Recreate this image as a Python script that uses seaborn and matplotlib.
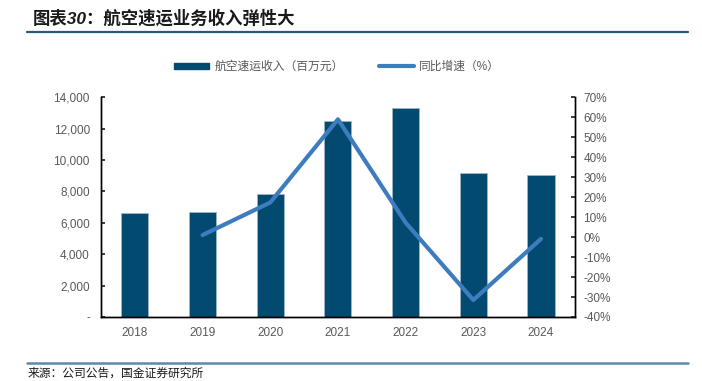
import numpy as np
import pandas as pd
import matplotlib
matplotlib.use("Agg")
import matplotlib.pyplot as plt
from matplotlib.lines import Line2D
from matplotlib.patches import Patch
from matplotlib.ticker import FuncFormatter, MultipleLocator
import seaborn as sns

# chart data
years = ["2018", "2019", "2020", "2021", "2022", "2023", "2024"]
revenue = [6600, 6680, 7850, 12470, 13300, 9140, 9060]      # 百万元
growth = [np.nan, 1.0, 17.3, 58.9, 7.2, -31.5, -0.9]       # %

bar_label = "航空速运收入（百万元）"
line_label = "同比增速（%）"
title = "图表30：航空速运业务收入弹性大"
source = "来源：公司公告，国金证券研究所"

BAR_COLOR = "#034a70"
LINE_COLOR = "#3d7dbf"
TICK_COLOR = "#595959"

sns.set_theme(style="white")
plt.rcParams["font.family"] = ["Liberation Sans", "Noto Sans CJK SC", "DejaVu Sans"]
plt.rcParams.update({
    "xtick.direction": "in",
    "ytick.direction": "in",
    "xtick.major.size": 3,
    "ytick.major.size": 3,
    "axes.linewidth": 1.0,
    "axes.edgecolor": "black",
})

df = pd.DataFrame({"year": years, "revenue": revenue, "growth": growth})
df["pos"] = np.arange(len(df))

fig = plt.figure(figsize=(7.02, 3.81), dpi=100)
ax = fig.add_axes([0.1439, 0.168, 0.675, 0.577])

sns.barplot(data=df, x="year", y="revenue", color=BAR_COLOR, saturation=1,
            width=0.4, ax=ax, edgecolor="#9fb7c8", linewidth=0.6)
ax.set_xlim(-0.5, len(years) - 0.5)
ax.set_ylim(0, 14000)
ax.yaxis.set_major_locator(MultipleLocator(2000))
ax.yaxis.set_major_formatter(FuncFormatter(lambda v, p: "-" if v == 0 else f"{v:,.0f}"))
# tick marks sit between the categories, labels under the bars
ax.set_xticks(np.arange(len(years)) + 0.5, minor=False)
ax.set_xticklabels([])
ax.set_xticks(np.arange(len(years)), minor=True)
ax.set_xticklabels(years, minor=True)
ax.tick_params(axis="x", which="minor", length=0, pad=7, labelsize=8.5, labelcolor=TICK_COLOR)
ax.tick_params(axis="x", which="major", length=3, color="black")
ax.tick_params(axis="y", labelsize=8.5, labelcolor=TICK_COLOR, pad=8, left=True)
ax.set_xlabel("")
ax.set_ylabel("")
ax.spines["top"].set_visible(False)

ax2 = ax.twinx()
line_df = df.dropna(subset=["growth"])
sns.lineplot(data=line_df, x="pos", y="growth", color=LINE_COLOR, linewidth=3,
             ax=ax2, legend=False)
ax2.set_xlim(-0.5, len(years) - 0.5)
ax2.set_ylim(-40, 70)
ax2.yaxis.set_major_locator(MultipleLocator(10))
ax2.yaxis.set_major_formatter(FuncFormatter(lambda v, p: f"{v:.0f}%"))
ax2.tick_params(axis="y", labelsize=8.5, labelcolor=TICK_COLOR, pad=6, right=True)
ax2.set_xlabel("")
ax2.set_ylabel("")
ax2.spines["top"].set_visible(False)

handles = [Patch(facecolor=BAR_COLOR, edgecolor=BAR_COLOR),
           Line2D([0], [0], color=LINE_COLOR, linewidth=3)]
fig.legend(handles, [bar_label, line_label], loc="center", ncol=2,
           bbox_to_anchor=(0.48, 0.824), frameon=False, fontsize=8.5,
           handlelength=3.0, handleheight=0.5, columnspacing=3.0,
           labelcolor=TICK_COLOR, handletextpad=0.4)

fig.text(0.047, 0.953, title, fontsize=12.5, fontweight="bold", fontstyle="italic",
         color="#1a1a1a", va="center", ha="left")
fig.add_artist(Line2D([27 / 702, 688 / 702], [1 - 32 / 381] * 2,
                      color="#245a7e", linewidth=1.6, transform=fig.transFigure))
fig.add_artist(Line2D([27 / 702, 688 / 702], [1 - 363 / 381] * 2,
                      color="#5a8aa6", linewidth=1.8, transform=fig.transFigure))
fig.text(0.04, 1 - 368 / 381, source, fontsize=8.5, color="#1a1a1a", va="top", ha="left")

fig.savefig("out.png", dpi=100)
